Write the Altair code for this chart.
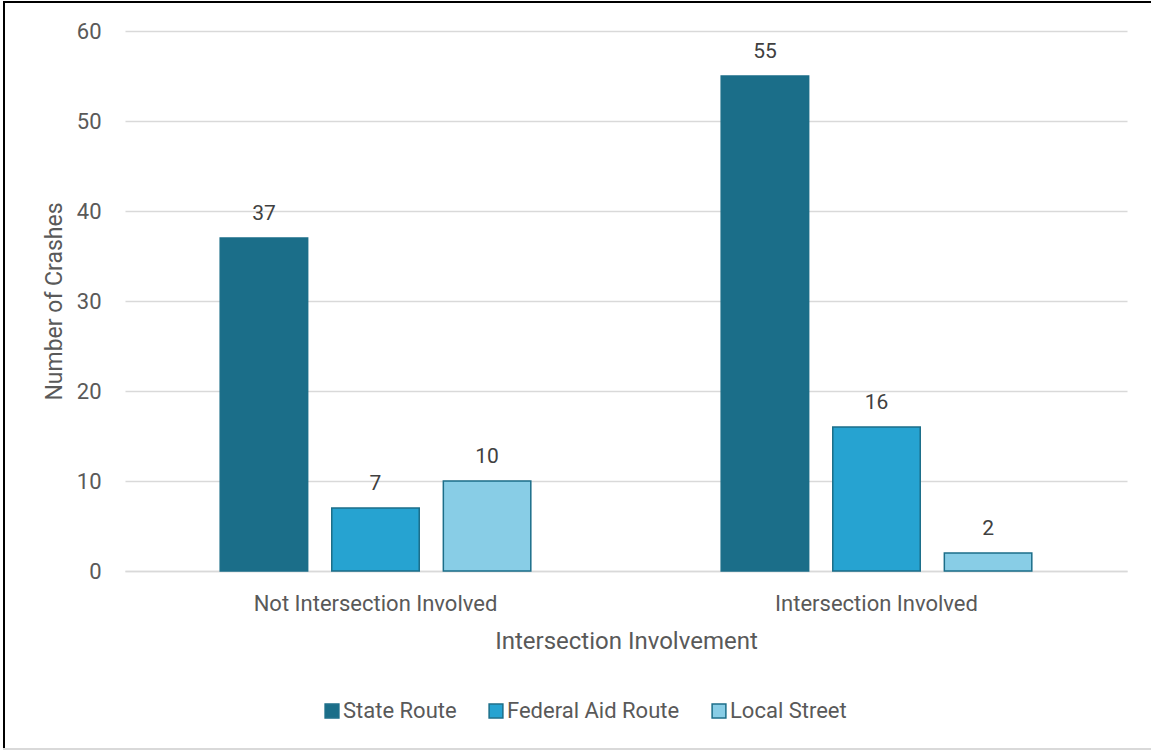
import altair as alt
import pandas as pd

categories = ["Not Intersection Involved", "Intersection Involved"]
series = ["State Route", "Federal Aid Route", "Local Street"]
state_route = [37, 55]
federal_aid = [7, 16]
local_street = [10, 2]
colors = ["#1b6e89", "#26a3d1", "#88cde6"]

rows = []
for i, c in enumerate(categories):
    for s, vals in zip(series, [state_route, federal_aid, local_street]):
        rows.append({"cat": c, "series": s, "value": vals[i]})
df = pd.DataFrame(rows)

FONT = "Roboto"
W, H = 1002, 540

x = alt.X("cat:N", sort=categories, title="Intersection Involvement",
          scale=alt.Scale(paddingInner=0.38, paddingOuter=0.19),
          axis=alt.Axis(labelAngle=0, labelFontSize=22, labelColor="#595959",
                        labelPadding=22, labelLimit=400, titleFontSize=24,
                        titleColor="#595959",
                        titleFontWeight="normal", titlePadding=15,
                        domainColor="#d9d9d9", domainWidth=1.5, ticks=False,
                        labelFont=FONT, titleFont=FONT))
xo = alt.XOffset("series:N", sort=series,
                 scale=alt.Scale(paddingInner=0.216, paddingOuter=0))
y = alt.Y("value:Q", title="Number of Crashes",
          scale=alt.Scale(domain=[0, 60]),
          axis=alt.Axis(values=[0, 10, 20, 30, 40, 50, 60], labelFontSize=22,
                        labelColor="#595959", labelPadding=24, domain=False, ticks=False,
                        gridColor="#d9d9d9", gridWidth=1.5, titleFontSize=23,
                        titleColor="#595959", titleFontWeight="normal", titlePadding=10,
                        labelFont=FONT, titleFont=FONT))
color = alt.Color("series:N", sort=series, title=None,
                  scale=alt.Scale(domain=series, range=colors),
                  legend=alt.Legend(orient="none", direction="horizontal",
                                    legendX=196, legendY=669, symbolType="square",
                                    symbolSize=190, symbolStrokeColor="#1b6e89",
                                    symbolStrokeWidth=1.5, labelFontSize=22,
                                    labelColor="#595959", columnPadding=28,
                                    labelOffset=0, labelFont=FONT, labelLimit=400))

bars = alt.Chart(df).mark_bar(stroke="#1b6e89", strokeWidth=1.5).encode(
    x=x, xOffset=xo, y=y, color=color)

labels = alt.Chart(df).mark_text(baseline="bottom", dy=-14, fontSize=21,
                                 color="#404040", font=FONT).encode(
    x=alt.X("cat:N", sort=categories), xOffset=alt.XOffset("series:N", sort=series),
    y="value:Q", text="value:Q")

left_border = alt.Chart(df).mark_rule(color="black", strokeWidth=2).encode(
    x=alt.value(-121), y=alt.value(-30), y2=alt.value(720))
top_border = alt.Chart(df).mark_rule(color="black", strokeWidth=2).encode(
    x=alt.value(-122), x2=alt.value(1030), y=alt.value(-29))
bottom_border = alt.Chart(df).mark_rule(color="#d9d9d9", strokeWidth=2).encode(
    x=alt.value(-122), x2=alt.value(1030), y=alt.value(718))

chart = alt.layer(bars, labels, left_border, top_border, bottom_border).properties(
    width=W, height=H,
    padding={"left": 125, "top": 31, "right": 24, "bottom": 179},
    autosize=alt.AutoSizeParams(type="none"),
    background="white",
).configure_view(stroke=None)

chart.save("out.html", embed_options={"renderer": "svg", "actions": False})
